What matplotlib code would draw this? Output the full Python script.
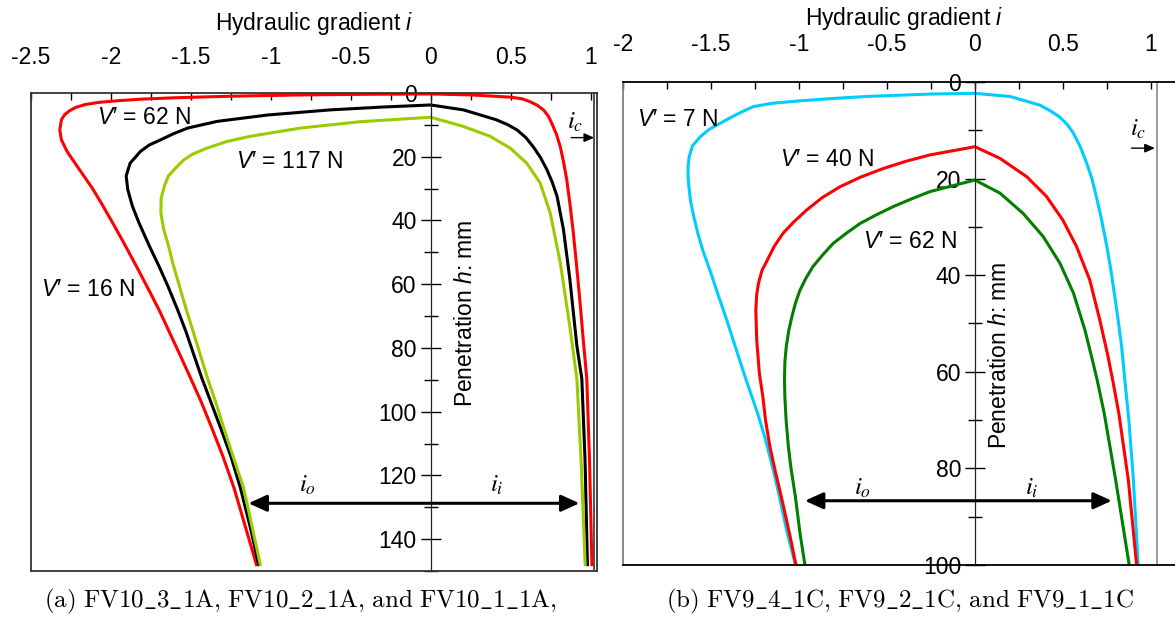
import matplotlib
matplotlib.use("Agg")
import matplotlib.pyplot as plt
from matplotlib.ticker import MultipleLocator, FuncFormatter

plt.rcParams["font.family"] = ["Liberation Sans", "DejaVu Sans"]
plt.rcParams["mathtext.fontset"] = "custom"
plt.rcParams["mathtext.rm"] = "Liberation Sans"
plt.rcParams["mathtext.it"] = "Liberation Sans:italic"
plt.rcParams["axes.unicode_minus"] = False

# ---- panel (a): FV10 tests, gradient i along the loop (outer side, then inner side) ----
a16_h = [148, 136, 124, 114, 105, 97, 89.7, 82, 75, 68.5, 62.6, 54, 47, 40.7, 35,
         30, 26, 22, 18.3, 14.7, 11.6, 8.4, 6.8, 5.6, 4.5, 3.6, 2.9, 2.4, 1.9,
         1.5, 1.2, 0.9, 0.6, 0.4, 0.3,
         0.6, 1.3, 1.8, 2.7, 3.8, 5.3, 7.2, 9.5, 12.8, 16.8, 21.5, 27, 34.5,
         43, 53, 63.6, 78, 89.7, 115, 148]
a16_i = [-1.09, -1.16, -1.23, -1.30, -1.37, -1.435, -1.50, -1.57, -1.635, -1.695,
         -1.755, -1.845, -1.92, -1.99, -2.055, -2.115, -2.17, -2.225, -2.275,
         -2.31, -2.32, -2.31, -2.29, -2.26, -2.22, -2.16, -2.07, -1.95, -1.80,
         -1.60, -1.40, -1.15, -0.80, -0.40, 0.0,
         0.25, 0.50, 0.57, 0.62, 0.665, 0.705, 0.735, 0.757, 0.785, 0.81, 0.83,
         0.85, 0.87, 0.89, 0.91, 0.93, 0.955, 0.976, 0.993, 1.008]

a62_h = [148, 136, 124, 114, 105, 97, 89.7, 82.4, 75, 67.8, 60.5, 54.3, 48, 40.7,
         35.5, 30.3, 26, 22, 18.3, 16.3, 14.7, 12.8, 11, 8.9, 6.9, 5.3, 4.4, 3.75,
         5.3, 8.4, 9.9, 11.6, 14, 16.8, 20.2, 24, 28, 32.4, 42.8, 58.4, 79.3,
         89.7, 115, 148]
a62_i = [-1.076, -1.13, -1.19, -1.25, -1.315, -1.375, -1.43, -1.48, -1.53, -1.585,
         -1.645, -1.70, -1.76, -1.825, -1.866, -1.895, -1.905, -1.88, -1.815,
         -1.76, -1.69, -1.61, -1.52, -1.336, -1.02, -0.63, -0.30, 0.0,
         0.205, 0.41, 0.48, 0.54, 0.595, 0.64, 0.686, 0.726, 0.76, 0.79, 0.83,
         0.87, 0.914, 0.945, 0.965, 0.98]

a117_h = [148, 136, 124, 114.7, 105, 97, 89.7, 82.4, 75, 67.8, 60.5, 54, 48, 42.8,
          37.6, 33, 29, 26, 23.5, 21, 19.2, 17.3, 15.2, 13.6, 11, 9, 7.6,
          10.5, 13.6, 17.3, 22, 28.2, 37.6, 53.2, 74, 89.7, 115, 148]
a117_i = [-1.066, -1.118, -1.17, -1.232, -1.295, -1.345, -1.395, -1.44, -1.485,
          -1.53, -1.572, -1.61, -1.64, -1.67, -1.688, -1.686, -1.665, -1.64,
          -1.595, -1.545, -1.49, -1.40, -1.274, -1.13, -0.815, -0.44, 0.0,
          0.205, 0.372, 0.497, 0.60, 0.684, 0.747, 0.81, 0.872, 0.914, 0.94, 0.966]

# ---- panel (b): FV9 tests ----
b7_h = [100, 92.8, 86, 80.3, 74, 68.6, 61.7, 55, 49.3, 44, 39.6, 35, 31.3, 27.5,
        24.4, 21.5, 19.6, 17.5, 15.5, 13.2, 11.3, 9.8, 8.6, 7.2, 6.1, 5.1, 4.4,
        3.9, 3.4, 3.0, 2.7, 2.5, 2.35,
        3.0, 4.8, 6.0, 7.2, 8.8, 10.6, 13.5, 16.8, 20, 23.7, 28.5, 34.1, 39,
        44.4, 49.5, 54.8, 61.7, 70, 82, 100]
b7_i = [-1.02, -1.07, -1.11, -1.146, -1.19, -1.235, -1.30, -1.36, -1.41, -1.46,
        -1.50, -1.545, -1.575, -1.60, -1.617, -1.626, -1.63, -1.63, -1.624,
        -1.605, -1.56, -1.51, -1.45, -1.38, -1.32, -1.26, -1.15, -0.994, -0.80,
        -0.615, -0.40, -0.256, 0.0,
        0.2, 0.37, 0.43, 0.48, 0.525, 0.56, 0.60, 0.635, 0.665, 0.69, 0.72,
        0.75, 0.773, 0.795, 0.815, 0.834, 0.852, 0.875, 0.90, 0.928]

b40_h = [100, 94.1, 85.9, 80.5, 75.5, 70, 65.2, 60.3, 53.4, 47.2, 44, 41.7, 39,
         36.9, 34, 31.3, 29, 26.5, 24, 21.7, 19.7, 17.9, 16.4, 15.1, 13.4,
         15.8, 19.6, 23.7, 28.6, 34.1, 41, 49.3, 56.9, 61.7, 68.6, 82.4, 100]
b40_i = [-1.017, -1.05, -1.10, -1.135, -1.165, -1.19, -1.205, -1.225, -1.24,
         -1.245, -1.24, -1.23, -1.21, -1.18, -1.14, -1.09, -1.03, -0.956, -0.87,
         -0.767, -0.65, -0.52, -0.39, -0.256, 0.0,
         0.142, 0.294, 0.407, 0.50, 0.578, 0.653, 0.71, 0.757, 0.783, 0.818,
         0.872, 0.919]

b62_h = [100, 93.4, 85.9, 80, 75.5, 70, 65.2, 61.7, 58, 54.8, 51.5, 48.6, 45.8,
         43.1, 40.6, 38.2, 35.8, 33.4, 31.3, 29.3, 27.5, 25.8, 24.2, 22.7, 20.3,
         23, 27.2, 32, 37.5, 43.7, 51.3, 58.2, 61.7, 68.6, 82.4, 100]
b62_i = [-0.966, -0.994, -1.02, -1.045, -1.06, -1.073, -1.08, -1.082, -1.08,
         -1.072, -1.058, -1.04, -1.02, -0.994, -0.96, -0.92, -0.865, -0.805,
         -0.73, -0.653, -0.56, -0.464, -0.36, -0.256, 0.0,
         0.142, 0.274, 0.388, 0.483, 0.56, 0.625, 0.672, 0.695, 0.735, 0.80, 0.877]

fig = plt.figure(figsize=(11.75, 6.23), dpi=100)
ax_a = fig.add_axes([0.0264, 0.0835, 0.4817, 0.7672])
ax_b = fig.add_axes([0.5302, 0.0931, 0.4792, 0.7753])

fmt = FuncFormatter(lambda v, p: "0" if abs(v) < 1e-9 else f"{v:g}")


def style_panel(ax, xlim, hmax, edge_left, edge_other, inner_x, inner_color,
                tick_pad, label_pad):
    ax.set_xlim(*xlim)
    ax.set_ylim(hmax, 0)
    # vertical scale sits on the i = 0 line
    ax.spines["left"].set_position(("data", 0))
    ax.spines["left"].set_linewidth(0.9)
    ax.spines["left"].set_color("#222222")
    for s in ("top", "bottom", "right"):
        ax.spines[s].set_color(edge_other)
        ax.spines[s].set_linewidth(1.3)
    ax.axvline(xlim[0], color=edge_left, lw=1.3, clip_on=False)
    ax.axvline(inner_x, color=inner_color, lw=1.1)

    ax.xaxis.set_major_locator(MultipleLocator(0.5))
    ax.xaxis.set_minor_locator(MultipleLocator(0.25))
    ax.xaxis.set_major_formatter(fmt)
    ax.tick_params(axis="x", which="both", top=True, bottom=False,
                   labeltop=True, labelbottom=False, direction="in",
                   length=5, width=1, pad=tick_pad, labelsize=16.5)

    ax.yaxis.set_major_locator(MultipleLocator(20))
    ax.yaxis.set_minor_locator(MultipleLocator(10))
    ax.yaxis.set_major_formatter(fmt)
    ax.tick_params(axis="y", which="major", direction="inout", length=15,
                   width=1, pad=2.5, labelsize=16.5, right=False)
    ax.tick_params(axis="y", which="minor", direction="inout", length=10,
                   width=1, right=False)
    ax.xaxis.set_label_position("top")
    ax.set_xlabel("Hydraulic gradient $i$", fontsize=16.5, labelpad=label_pad)


style_panel(ax_a, (-2.5, 1.04), 150, "#333333", "#333333", 1.02, "#222222", 17, 12)
style_panel(ax_b, (-2.0, 1.2), 100, "#808080", "black", 1.035, "#808080", 18.5, 6)

lw = 2.2
ax_a.plot(a16_i, a16_h, color="#FF0000", lw=lw)
ax_a.plot(a62_i, a62_h, color="black", lw=lw)
ax_a.plot(a117_i, a117_h, color="#99CC00", lw=lw)

ax_b.plot(b7_i, b7_h, color="#00CCFF", lw=lw)
ax_b.plot(b40_i, b40_h, color="#FF0000", lw=lw)
ax_b.plot(b62_i, b62_h, color="#008000", lw=lw)

# curve labels
ax_a.text(-2.09, 7.8, "$V$\u2032 = 62 N", fontsize=16.5, va="center")
ax_a.text(-1.22, 21.6, "$V$\u2032 = 117 N", fontsize=16.5, va="center")
ax_a.text(-2.44, 61.6, "$V$\u2032 = 16 N", fontsize=16.5, va="center")
ax_b.text(-1.92, 7.7, "$V$\u2032 = 7 N", fontsize=16.5, va="center")
ax_b.text(-1.108, 16.1, "$V$\u2032 = 40 N", fontsize=16.5, va="center")
ax_b.text(-0.636, 33.1, "$V$\u2032 = 62 N", fontsize=16.5, va="center")

# vertical axis labels beside the zero line
ax_a.text(0.215, 69, "Penetration $h$: mm", rotation=90, fontsize=16.5,
          ha="center", va="center")
ax_b.text(0.142, 56.5, "Penetration $h$: mm", rotation=90, fontsize=16.5,
          ha="center", va="center")

big_arrow = dict(arrowstyle="<|-|>,head_length=0.55,head_width=0.25",
                 lw=2.2, color="black", shrinkA=0, shrinkB=0, mutation_scale=20)
small_arrow = dict(arrowstyle="-|>,head_length=0.5,head_width=0.22",
                   lw=1.0, color="black", shrinkA=0, shrinkB=0, mutation_scale=12)

ax_a.annotate("", xy=(-1.14, 128.75), xytext=(0.93, 128.75), arrowprops=big_arrow)
ax_a.annotate("", xy=(1.022, 14), xytext=(0.878, 14), arrowprops=small_arrow)
ax_a.text(-0.77, 123, "$i_o$", math_fontfamily="stix", fontsize=18,
          ha="center", va="center")
ax_a.text(0.415, 123, "$i_i$", math_fontfamily="stix", fontsize=18,
          ha="center", va="center")
ax_a.text(0.85, 9.0, "$i_c$", math_fontfamily="stix", fontsize=18,
          ha="left", va="center")

ax_b.annotate("", xy=(-0.966, 86.7), xytext=(0.778, 86.7), arrowprops=big_arrow)
ax_b.annotate("", xy=(1.023, 13.7), xytext=(0.89, 13.7), arrowprops=small_arrow)
ax_b.text(-0.64, 84, "$i_o$", math_fontfamily="stix", fontsize=18,
          ha="center", va="center")
ax_b.text(0.324, 84, "$i_i$", math_fontfamily="stix", fontsize=18,
          ha="center", va="center")
ax_b.text(0.88, 9.8, "$i_c$", math_fontfamily="stix", fontsize=18,
          ha="left", va="center")

# sub-figure captions
fig.text(0.2553, 0.035,
         r"$\mathrm{(a)\ FV10\_3\_1A{,}\ FV10\_2\_1A{,}\ and\ FV10\_1\_1A{,}}$",
         math_fontfamily="cm", fontsize=18, ha="center", va="center")
fig.text(0.766, 0.035,
         r"$\mathrm{(b)\ FV9\_4\_1C{,}\ FV9\_2\_1C{,}\ and\ FV9\_1\_1C}$",
         math_fontfamily="cm", fontsize=18, ha="center", va="center")

fig.savefig("out.png", dpi=100)
